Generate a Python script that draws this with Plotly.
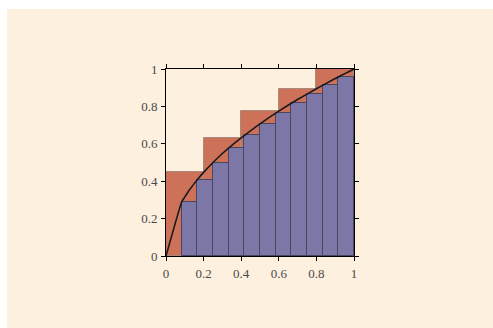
import plotly.graph_objects as go

# Upper sum: 5 intervals of width 0.2
upper_left = [0.0, 0.2, 0.4, 0.6, 0.8]
upper_width = [0.2, 0.2, 0.2, 0.2, 0.2]
upper_height = [0.447, 0.632, 0.775, 0.894, 1.0]

# Lower sum: 12 intervals of width 1/12 (first one has zero height)
lower_left = [1/12, 2/12, 3/12, 4/12, 5/12, 6/12, 7/12, 8/12, 9/12, 10/12, 11/12]
lower_width = [1/12] * 11
lower_height = [0.289, 0.408, 0.5, 0.577, 0.645, 0.707, 0.764, 0.816, 0.866, 0.913, 0.957]

# The curve y = sqrt(x)
curve_x = [0, 1/12, 0.1, 0.125, 0.15, 0.175, 0.2, 0.25, 0.3, 0.35, 0.4, 0.5, 0.6, 0.7, 0.8, 0.9, 1.0]
curve_y = [0, 0.289, 0.316, 0.354, 0.387, 0.418, 0.447, 0.5, 0.548, 0.592, 0.632, 0.707, 0.775, 0.837, 0.894, 0.949, 1.0]

tick_vals = [0, 0.2, 0.4, 0.6, 0.8, 1]
tick_text = ["0", "0.2", "0.4", "0.6", "0.8", "1"]

cream = "#fdf0df"

fig = go.Figure()
fig.add_trace(go.Bar(
    x=upper_left, y=upper_height, width=upper_width, offset=0,
    marker=dict(color="#cd7259", line=dict(color="#a88a7c", width=1)),
    showlegend=False,
))
fig.add_trace(go.Bar(
    x=lower_left, y=lower_height, width=lower_width, offset=0,
    marker=dict(color="#7c77a6", line=dict(color="#4a4560", width=1)),
    showlegend=False,
))
fig.add_trace(go.Scatter(
    x=curve_x, y=curve_y, mode="lines",
    line=dict(color="#1a1a1a", width=1.6, shape="spline", smoothing=0.4),
    showlegend=False,
))

axis_common = dict(
    range=[0, 1], tickvals=tick_vals, ticktext=tick_text,
    showgrid=False, zeroline=False,
    showline=True, linecolor="black", linewidth=1, mirror="ticks",
    ticks="outside", ticklen=4, tickcolor="black", tickwidth=1,
    tickfont=dict(family="Liberation Serif, Times New Roman, serif", size=13, color="#4a4a4a"),
)

fig.update_layout(
    width=493, height=328,
    margin=dict(l=166, r=139, t=69, b=72),
    paper_bgcolor="white",
    plot_bgcolor=cream,
    barmode="overlay",
    bargap=0,
    xaxis=dict(**axis_common, ticklabelstandoff=1),
    yaxis=dict(**axis_common, ticklabelstandoff=1),
    shapes=[dict(
        type="rect", xref="paper", yref="paper",
        x0=-0.846, x1=2.0, y0=-1.0, y1=1.321,
        fillcolor=cream, line=dict(width=0), layer="below",
    )],
)

fig.write_html("out.html")
